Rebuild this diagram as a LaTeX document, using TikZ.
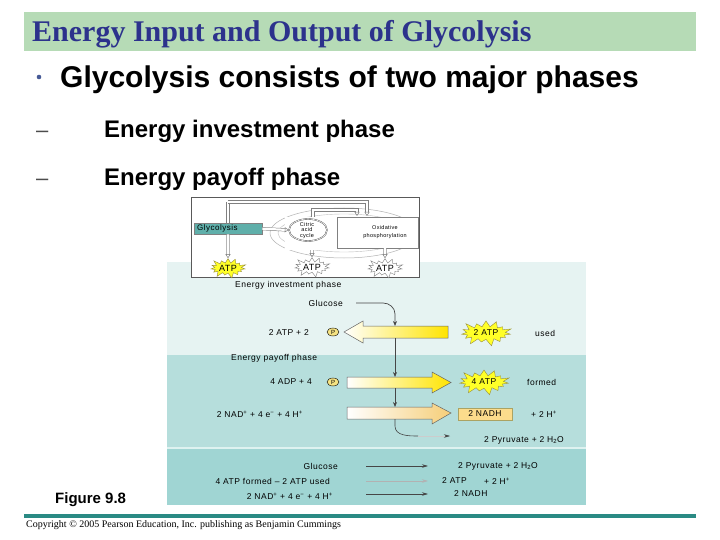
\documentclass[tikz,border=0pt]{standalone}
\usepackage{fontspec}
\setmainfont{Liberation Sans}
\newfontfamily\serif{Liberation Serif}
\newfontfamily\lblfont[LetterSpace=6]{Liberation Sans}
\usetikzlibrary{shapes.symbols,shapes.geometric,arrows.meta}
\definecolor{titlebar}{RGB}{182,219,182}
\definecolor{titleblue}{RGB}{44,50,140}
\definecolor{investbg}{RGB}{230,243,242}
\definecolor{payoffbg}{RGB}{182,222,220}
\definecolor{summarybg}{RGB}{160,213,211}
\definecolor{gapbg}{RGB}{222,242,240}
\definecolor{lineteal}{RGB}{42,138,132}
\definecolor{atpyellow}{RGB}{255,255,40}
\definecolor{atpedge}{RGB}{150,140,60}
\definecolor{arrowyellow}{RGB}{255,228,0}
\definecolor{nadhorange}{RGB}{246,206,120}
\definecolor{nadhbox}{RGB}{252,220,140}
\definecolor{pfill}{RGB}{245,226,130}
\definecolor{glyteal}{RGB}{95,175,170}
\definecolor{conn}{RGB}{70,70,70}
\definecolor{bulletblue}{RGB}{70,90,150}
\begin{document}
\begin{tikzpicture}[x=1pt,y=-1pt,
  lbl/.style={font=\lblfont\fontsize{8.5}{9}\selectfont, inner sep=0pt},
  tiny/.style={font=\lblfont\fontsize{5.5}{5.3}\selectfont, inner sep=0pt, align=center},
  burst/.style={starburst, starburst points=15, starburst point height=8pt, draw=atpedge, fill=atpyellow, line width=0.4pt, inner sep=1.5pt, font=\lblfont\fontsize{8.5}{9}\selectfont},
  iburst/.style={burst, starburst point height=6pt, inner sep=0.5pt, font=\lblfont\fontsize{9}{9}\selectfont},
  wburst/.style={iburst, fill=white, draw=gray},
  bigarrow/.style={draw=gray!80!black, line width=0.5pt},
  conline/.style={draw=conn, line width=0.7pt, -{Stealth[length=5pt,width=4pt]}},
  pipe/.style={draw=gray, double=white, double distance=2.2pt, line width=0.5pt},
  pcirc/.style={ellipse, draw=black, line width=0.4pt, fill=pfill, minimum width=12pt, minimum height=8pt, inner sep=0pt, font=\fontsize{6}{6}\selectfont},
  sumarrow/.style={draw=conn, line width=0.6pt, -{Stealth[length=6pt,width=3.5pt]}}]
\useasboundingbox (0,0) rectangle (720,540);
\fill[white] (0,0) rectangle (720,540);
% title
\fill[titlebar] (24,12) rectangle (696,51);
\node[anchor=base west, inner sep=0, text=titleblue, font=\serif\bfseries\fontsize{30}{32}\selectfont] (title) at (32,42) {Energy Input and Output of Glycolysis};
% bullets
\fill[bulletblue] (39,77) circle (2.3);
\node[anchor=base west, inner sep=0, font=\bfseries\fontsize{30}{32}\selectfont] (b1) at (60,87.5) {Glycolysis consists of two major phases};
\node[anchor=base west, inner sep=0, text=black!70, font=\fontsize{22}{24}\selectfont] (d1) at (36,137.5) {–};
\node[anchor=base west, inner sep=0, font=\bfseries\fontsize{24}{26}\selectfont] (s1) at (104,137.5) {Energy investment phase};
\node[anchor=base west, inner sep=0, text=black!70, font=\fontsize{22}{24}\selectfont] (d2) at (36,185.5) {–};
\node[anchor=base west, inner sep=0, font=\bfseries\fontsize{24}{26}\selectfont] (s2) at (104,185.5) {Energy payoff phase};
% panels
\fill[investbg] (167,262) rectangle (586,355);
\fill[payoffbg] (167,355) rectangle (586,447);
\fill[gapbg] (167,447) rectangle (586,449);
\fill[summarybg] (167,449) rectangle (586,505);
% inset
\draw[gray!70!black, fill=white, line width=0.5pt] (191,197) rectangle (419,277);
\draw[gray!60, line width=0.5pt] (344,233) ellipse (74 and 25);
\draw[gray!50, line width=0.4pt] (344,233) ellipse (66 and 19);
\fill[white] (285,217) rectangle (335,250);
\draw[gray, line width=0.4pt, fill=white] (337,217) rectangle (418,248);
\node[draw=black!70, double, ellipse, minimum width=38pt, minimum height=22pt, inner sep=0, line width=0.4pt] (cac) at (308,230) {};
\node[tiny] (cact) at (307,230.5) {Citric\\acid\\cycle};
\node[tiny, font=\lblfont\fontsize{5.5}{7.5}\selectfont] (oxp) at (385,232) {Oxidative\\phosphorylation};
\node[draw=gray, fill=glyteal, minimum width=68pt, minimum height=11pt, inner sep=0, anchor=north west] (glybox) at (194,223) {};
\node[inner sep=0, font=\lblfont\fontsize{8}{8}\selectfont, anchor=west] (glyt) at (197,228) {Glycolysis};
\node[iburst] (atp1) at (228,268) {ATP};
\node[wburst] (atp2) at (312,267) {ATP};
\node[wburst] (atp3) at (385,268) {ATP};
\coordinate (p1) at (228,202);
\coordinate (p2) at (367,202);
\coordinate (p3) at (367,216);
\coordinate (q1) at (313,217);
\coordinate (q2) at (313,210);
\coordinate (q3) at (357,210);
\coordinate (q4) at (357,216);
\draw[pipe] (glybox.north west -| p1) -- (p1);
\draw[pipe, -{Triangle[open,length=4pt,width=5pt]}] (p1) -- (p2) -- (p3);
\draw[pipe, -{Triangle[open,length=4pt,width=5pt]}] (q1) -- (q2) -- (q3) -- (q4);
\draw[pipe, -{Triangle[open,length=4pt,width=5pt]}] (glybox.east) -- (cac.west);
\draw[pipe, -{Triangle[open,length=4pt,width=5pt]}] (glybox.south -| p1) -- (atp1.north);
\draw[pipe, -{Triangle[open,length=4pt,width=5pt]}] (312,250) -- (atp2.north);
\draw[pipe, -{Triangle[open,length=4pt,width=5pt]}] (385,248) -- (atp3.north);
% investment phase
\node[lbl, anchor=west] (invlbl) at (235,285) {Energy investment phase};
\node[lbl, anchor=east] (glu) at (343,303) {Glucose};
\shade[left color=white, right color=arrowyellow] (448,326) -- (363,326) -- (363,321) -- (344,332) -- (363,343) -- (363,338) -- (448,338) -- cycle;
\draw[bigarrow] (448,326) -- (363,326) -- (363,321) -- (344,332) -- (363,343) -- (363,338) -- (448,338) -- cycle;
\coordinate (a1top) at (395,326);
\coordinate (a1bot) at (395,338);
\node[pcirc] (pc1) at (333,332) {P};
\node[lbl, anchor=east] (atp2p) at (309,333) {2 ATP + 2};
\node[burst] (b2atp) at (486,333) {2 ATP};
\node[lbl, anchor=west] (used) at (535,333) {used};
\draw[conline] (glu.east) ++(13,0) -- (383,303) to[out=0,in=90] (a1top |- 0,314) -- (a1top);
% payoff phase
\node[lbl, anchor=west] (paylbl) at (231,358) {Energy payoff phase};
\shade[left color=white, right color=arrowyellow] (347,377) -- (432,377) -- (432,372) -- (451,382.5) -- (432,393) -- (432,388) -- (347,388) -- cycle;
\draw[bigarrow] (347,377) -- (432,377) -- (432,372) -- (451,382.5) -- (432,393) -- (432,388) -- (347,388) -- cycle;
\coordinate (a2top) at (395,377);
\coordinate (a2bot) at (395,388);
\node[pcirc] (pc2) at (333,382) {P};
\node[lbl, anchor=east] (adp) at (312,382) {4 ADP + 4};
\node[burst] (b4atp) at (484,382) {4 ATP};
\node[lbl, anchor=west] (formed) at (527,382) {formed};
\draw[conline] (a1bot) -- (a2top);
\shade[left color=white, right color=nadhorange] (347,407) -- (432,407) -- (432,403) -- (451,413) -- (432,424) -- (432,419) -- (347,419) -- cycle;
\draw[bigarrow] (347,407) -- (432,407) -- (432,403) -- (451,413) -- (432,424) -- (432,419) -- (347,419) -- cycle;
\coordinate (a3top) at (395,407);
\coordinate (a3bot) at (395,419);
\draw[conline] (a2bot) -- (a3top);
\node[lbl, anchor=east] (nad) at (303,414) {2 NAD\textsuperscript{+} + 4 e\textsuperscript{−} + 4 H\textsuperscript{+}};
\node[draw=atpedge!80, fill=nadhbox, minimum width=54pt, minimum height=12pt, inner sep=0, lbl] (nadh) at (485,414) {2 NADH};
\node[lbl, anchor=west] (h2) at (531,414) {+ 2 H\textsuperscript{+}};
\node[lbl, anchor=west] (pyr) at (484,440) {2 Pyruvate + 2 H\textsubscript{2}O};
\coordinate (c1) at (418,436);
\coordinate (c2) at (450,436);
\draw[conn, line width=0.6pt] (a3bot) -- (395,426) to[out=-90,in=180] (c1);
\draw[gray!40, line width=0.5pt, -{Stealth[length=6pt,width=3.5pt,color=conn]}] (c1) -- (c2);
% summary
\node[lbl, anchor=east] (sg) at (338,466) {Glucose};
\node[lbl, anchor=west] (sp) at (458,466) {2 Pyruvate + 2 H\textsubscript{2}O};
\draw[sumarrow] (366,466) -- (428,466);
\node[lbl, anchor=east] (sf) at (330,481) {4 ATP formed – 2 ATP used};
\node[lbl, anchor=west] (sa) at (442,481) {2 ATP};
\node[lbl, anchor=west] (sh) at (484,481) {+ 2 H\textsuperscript{+}};
\draw[sumarrow, draw=gray!60] (366,481) -- (428,481);
\node[lbl, anchor=east] (sn) at (333,496) {2 NAD\textsuperscript{+} + 4 e\textsuperscript{−} + 4 H\textsuperscript{+}};
\node[lbl, anchor=west] (snd) at (454,494) {2 NADH};
\draw[sumarrow] (366,494) -- (428,494);
% footer
\node[anchor=west, inner sep=0, font=\bfseries\fontsize{15}{16}\selectfont] (fig) at (55,500) {Figure 9.8};
\fill[lineteal] (24,514) rectangle (696,518);
\node[anchor=west, inner sep=0, font=\serif\fontsize{10}{12}\selectfont] (copy) at (26,525) {Copyright © 2005 Pearson Education, Inc. publishing as Benjamin Cummings};
\end{tikzpicture}
\end{document}
